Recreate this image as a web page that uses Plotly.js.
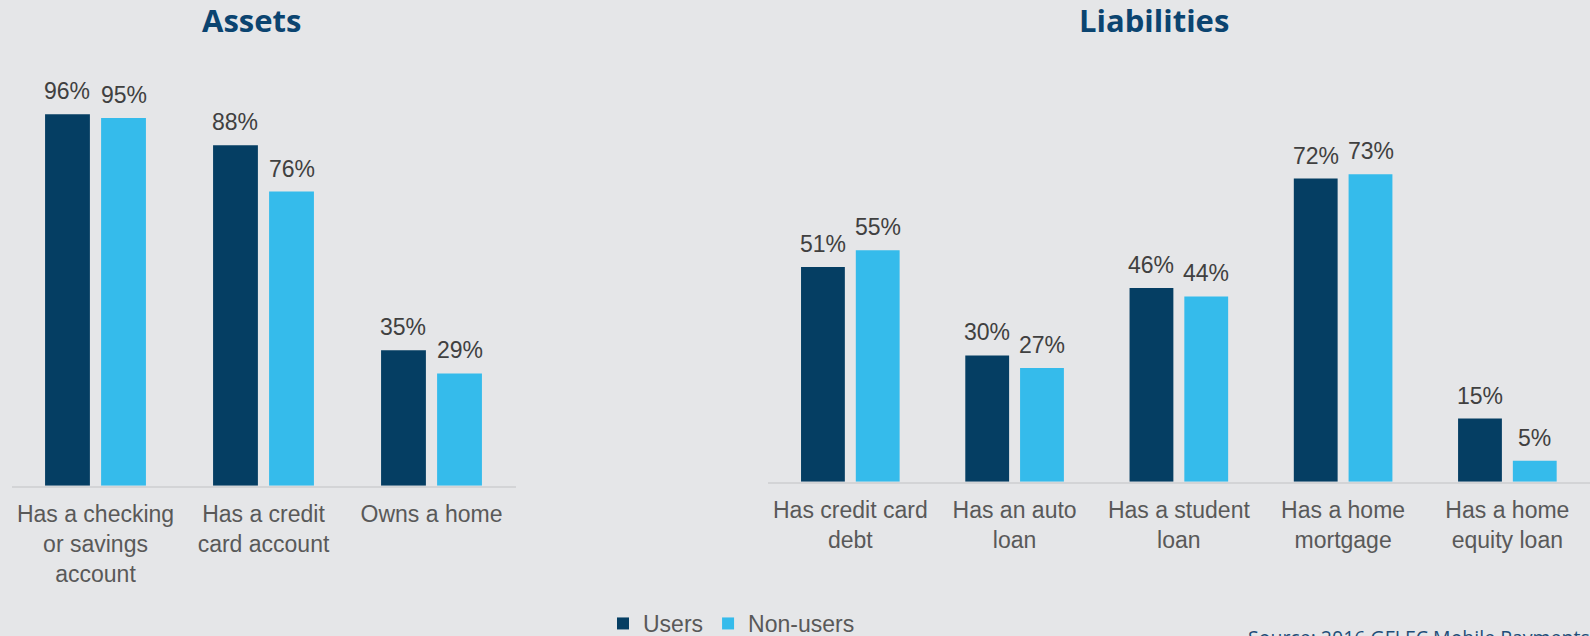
<!DOCTYPE html>
<html>
<head>
<meta charset="utf-8">
<script src="https://cdn.plot.ly/plotly-3.0.1.min.js"></script>
<style>
html,body{margin:0;padding:0;background:#e5e6e8;}
#chart{width:1590px;height:636px;}
</style>
</head>
<body>
<div id="chart"></div>
<script>
// ---- data ----
const seriesNames = ['Users', 'Non-users'];
const panelTitles = ['Assets', 'Liabilities'];
const assetCategories = ['Has a checking<br>or savings<br>account', 'Has a credit<br>card account', 'Owns a home'];
const assetUsers = [96, 88, 35];
const assetNonUsers = [95, 76, 29];
const liabilityCategories = ['Has credit card<br>debt', 'Has an auto<br>loan', 'Has a student<br>loan', 'Has a home<br>mortgage', 'Has a home<br>equity loan'];
const liabilityUsers = [51, 30, 46, 72, 15];
const liabilityNonUsers = [55, 27, 44, 73, 5];
const sourceNote = 'Source: 2016 GFLEC Mobile Payments Survey';

// ---- style ----
const W = 1590, H = 636;
const colors = ['#053e63', '#35bbeb'];
const bg = '#e5e6e8';
const bargap = 0.333, bargroupgap = 0.2;
const labelFont = {family: 'Liberation Sans, Arial, sans-serif', size: 23, color: '#404040'};
const tickFont = {family: 'Liberation Sans, Arial, sans-serif', size: 23, color: '#595959'};
const titleFont = {family: 'Open Sans, sans-serif', size: 31, color: '#0b4470', weight: 700};

const panels = [
  {cats: assetCategories, series: [assetUsers, assetNonUsers], xa: 'x', ya: 'y',
   xdom: [11.5 / W, 515.5 / W], ydom: [(H - 485.7) / H, (H - 98.7) / H], titleX: 251},
  {cats: liabilityCategories, series: [liabilityUsers, liabilityNonUsers], xa: 'x2', ya: 'y2',
   xdom: [768.2 / W, 1589.5 / W], ydom: [(H - 481.7) / H, (H - 60.7) / H], titleX: 1154}
];

const traces = [];
const annotations = [];
panels.forEach((p, pi) => {
  p.series.forEach((vals, si) => {
    traces.push({
      type: 'bar', name: seriesNames[si], x: p.cats, y: vals,
      xaxis: p.xa, yaxis: p.ya,
      marker: {color: colors[si], line: {width: 0}},
      legendgroup: seriesNames[si], showlegend: pi === 0,
      hoverinfo: 'x+y'
    });
    const axisPx = (p.xdom[1] - p.xdom[0]) * W;
    const slot = axisPx / p.cats.length * (1 - bargap) / 2;
    vals.forEach((v, i) => {
      annotations.push({
        x: p.cats[i], y: v, xref: p.xa, yref: p.ya,
        text: v + '%', showarrow: false, yanchor: 'bottom', xanchor: 'center',
        xshift: (si === 0 ? -1 : 1) * slot / 2, yshift: 8,
        font: labelFont
      });
    });
  });
  annotations.push({
    x: p.titleX / W, xref: 'paper', y: (H - 43) / H, yref: 'paper',
    xanchor: 'center', yanchor: 'bottom', showarrow: false,
    text: '<b>' + panelTitles[pi] + '</b>', font: titleFont
  });
});
annotations.push({
  x: 1246 / W, xref: 'paper', y: (H - 622) / H, yref: 'paper',
  xanchor: 'left', yanchor: 'top', showarrow: false,
  text: sourceNote, font: {family: 'Open Sans, sans-serif', size: 19.5, color: '#1f4e79'}
});

const axX = (dom) => ({
  domain: dom, type: 'category', showline: true, linecolor: '#d3d4d6', linewidth: 2,
  showgrid: false, zeroline: false, ticks: 'outside', ticklen: 7, tickcolor: 'rgba(0,0,0,0)',
  tickfont: tickFont, fixedrange: true, automargin: false
});
const axY = (dom, anchor) => ({
  domain: dom, range: [0, 100], visible: false, showgrid: false, zeroline: false,
  anchor: anchor, fixedrange: true
});

const layout = {
  width: W, height: H,
  margin: {l: 0, r: 0, t: 0, b: 0, autoexpand: false},
  paper_bgcolor: bg, plot_bgcolor: bg,
  barmode: 'group', bargap: bargap, bargroupgap: bargroupgap,
  xaxis: Object.assign(axX(panels[0].xdom), {anchor: 'y'}),
  yaxis: axY(panels[0].ydom, 'x'),
  xaxis2: Object.assign(axX(panels[1].xdom), {anchor: 'y2'}),
  yaxis2: axY(panels[1].ydom, 'x2'),
  showlegend: true,
  legend: {
    orientation: 'h', x: 603 / W, xanchor: 'left', y: (H - 602) / H, yanchor: 'top',
    font: {family: 'Liberation Sans, Arial, sans-serif', size: 23, color: '#595959'},
    bgcolor: 'rgba(0,0,0,0)', itemwidth: 30, traceorder: 'normal'
  },
  annotations: annotations
};

Plotly.newPlot('chart', traces, layout, {displayModeBar: false, staticPlot: true});
</script>
</body>
</html>
